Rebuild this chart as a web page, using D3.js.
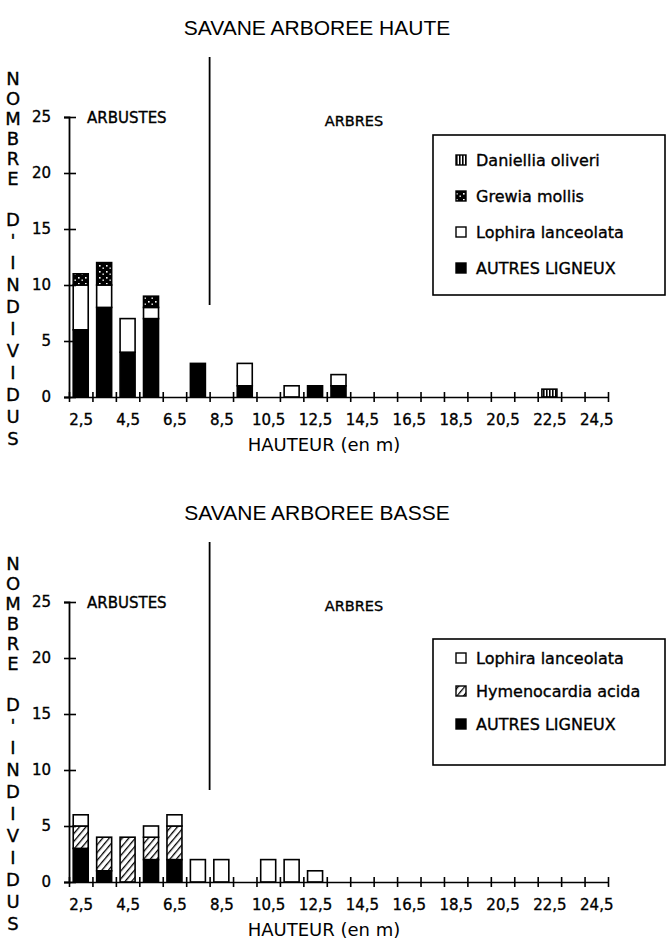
<!DOCTYPE html>
<html>
<head>
<meta charset="utf-8">
<script src="https://cdn.jsdelivr.net/npm/d3@7"></script>
<style>
  html, body { margin: 0; padding: 0; background: #fff; }
  svg { display: block; }
  text { font-family: "DejaVu Sans", sans-serif; fill: #000; }
  .heavy { stroke: #000; stroke-width: 0.35px; }
</style>
</head>
<body>
<svg id="chart" width="667" height="939"></svg>
<script>
// ---------- DATA ----------
const binCenters = [2.5,3.5,4.5,5.5,6.5,7.5,8.5,9.5,10.5,11.5,12.5,13.5,14.5,15.5,16.5,17.5,18.5,19.5,20.5,21.5,22.5,23.5,24.5];
const xTickLabels = ["2,5","4,5","6,5","8,5","10,5","12,5","14,5","16,5","18,5","20,5","22,5","24,5"];
const yTickValues = [0,5,10,15,20,25];

// Savane arborée haute
const hauteAutres    = [6,8,4,7,0,3,0,1,0,0,1,1,0,0,0,0,0,0,0,0,0,0,0];
const hauteLophira   = [4,2,3,1,0,0,0,2,0,1,0,1,0,0,0,0,0,0,0,0,0,0,0];
const hauteGrewia    = [1,2,0,1,0,0,0,0,0,0,0,0,0,0,0,0,0,0,0,0,0,0,0];
const hauteDaniellia = [0,0,0,0,0,0,0,0,0,0,0,0,0,0,0,0,0,0,0,0,0.7,0,0];

// Savane arborée basse
const basseAutres  = [3,1,0,2,2,0,0,0,0,0,0,0,0,0,0,0,0,0,0,0,0,0,0];
const basseHymeno  = [2,3,4,2,3,0,0,0,0,0,0,0,0,0,0,0,0,0,0,0,0,0,0];
const basseLophira = [1,0,0,1,1,2,2,0,2,2,1,0,0,0,0,0,0,0,0,0,0,0,0];

const yLabelWord1 = "NOMBRE";
const yLabelWord2 = "D'";
const yLabelWord3 = "INDIVIDUS";

// ---------- DRAW ----------
const svg = d3.select("#chart");
const defs = svg.append("defs");

const pGrewia = defs.append("pattern").attr("id","pGrewia").attr("patternUnits","userSpaceOnUse")
  .attr("width",7).attr("height",6);
pGrewia.append("rect").attr("width",7).attr("height",6).attr("fill","#000");
pGrewia.append("rect").attr("x",1).attr("y",1).attr("width",1.6).attr("height",1.6).attr("fill","#fff");
pGrewia.append("rect").attr("x",4.5).attr("y",3.5).attr("width",1.4).attr("height",1.4).attr("fill","#fff");

const pDan = defs.append("pattern").attr("id","pDan").attr("patternUnits","userSpaceOnUse")
  .attr("width",3).attr("height",4);
pDan.append("rect").attr("width",3).attr("height",4).attr("fill","#fff");
pDan.append("rect").attr("width",1.6).attr("height",4).attr("fill","#000");

const pHym = defs.append("pattern").attr("id","pHym").attr("patternUnits","userSpaceOnUse")
  .attr("width",5).attr("height",5).attr("patternTransform","rotate(40)");
pHym.append("rect").attr("width",5).attr("height",5).attr("fill","#fff");
pHym.append("rect").attr("width",1.3).attr("height",5).attr("fill","#000");

function drawChart(cfg) {
  const g = svg.append("g").attr("transform", `translate(0,${cfg.dy})`);
  const x = d3.scaleLinear().domain([2,25]).range([69,608]);
  const y = d3.scaleLinear().domain([0,25]).range([397,117]);

  // title
  g.append("text").attr("x",317).attr("y",27).attr("text-anchor","middle")
    .attr("dominant-baseline","central").style("font-size","21px").style("font-family","'Liberation Sans', sans-serif")
    .text(cfg.title);

  // divider arbustes / arbres
  g.append("line").attr("x1",x(8)).attr("x2",x(8)).attr("y1",57).attr("y2",305)
    .attr("stroke","#000").attr("stroke-width",1.8);
  g.append("text").attr("class","heavy").attr("x",87).attr("y",118).attr("dominant-baseline","central")
    .style("font-size","15px").text("ARBUSTES");
  g.append("text").attr("class","heavy").attr("x",354).attr("y",121).attr("text-anchor","middle").attr("dominant-baseline","central")
    .style("font-size","14.5px").text("ARBRES");

  // vertical label
  const vl = g.append("g").attr("class","heavy").style("font-size","18px");
  yLabelWord1.split("").forEach((c,i) => vl.append("text").attr("x",13).attr("y",78 + i*20)
    .attr("text-anchor","middle").attr("dominant-baseline","central").text(c));
  vl.append("text").attr("x",13).attr("y",219).attr("text-anchor","middle").attr("dominant-baseline","central").text(yLabelWord2[0]);
  vl.append("text").attr("x",13).attr("y",240).attr("text-anchor","middle").attr("dominant-baseline","central").text(yLabelWord2[1]);
  yLabelWord3.split("").forEach((c,i) => vl.append("text").attr("x",13).attr("y",262 + i*22)
    .attr("text-anchor","middle").attr("dominant-baseline","central").text(c));

  // stacked bars
  const keys = cfg.series.map(s => s.key);
  const rows = binCenters.map((c,i) => {
    const r = {center:c};
    cfg.series.forEach(s => r[s.key] = s.values[i]);
    return r;
  });
  const stacked = d3.stack().keys(keys)(rows);
  const barW = 15;
  stacked.forEach((layer, li) => {
    const s = cfg.series[li];
    g.append("g").selectAll("rect").data(layer.filter(d => d[1] - d[0] > 0)).join("rect")
      .attr("x", d => x(d.data.center) - barW/2)
      .attr("y", d => y(d[1]))
      .attr("width", barW)
      .attr("height", d => y(d[0]) - y(d[1]))
      .attr("fill", s.fill)
      .attr("stroke","#000").attr("stroke-width",1.6);
  });

  // y axis
  const yAxis = g.append("g").attr("transform","translate(69,0)")
    .call(d3.axisLeft(y).tickValues(yTickValues).tickFormat(d3.format("d")).tickSize(5).tickPadding(13));
  yAxis.select(".domain").attr("stroke-width",1.8);
  yAxis.selectAll(".tick line").attr("x1",-5).attr("x2",7).attr("stroke-width",1.6);
  yAxis.selectAll(".tick text").attr("class","heavy").style("font-size","15px").style("font-family","'DejaVu Sans', sans-serif");

  // x axis (bin edges)
  const xAxis = g.append("g").attr("transform","translate(0,397)")
    .call(d3.axisBottom(x).tickValues(d3.range(2,26)).tickFormat("").tickSize(5).tickSizeOuter(0));
  xAxis.select(".domain").attr("stroke-width",1.6);
  xAxis.selectAll(".tick line").attr("y1",-5).attr("y2",5).attr("stroke-width",1.6);

  // x labels at bin centers
  const xLab = g.append("g").attr("transform","translate(0,397)")
    .call(d3.axisBottom(x).tickValues(binCenters.filter((d,i) => i % 2 === 0))
      .tickFormat((d,i) => xTickLabels[i]).tickSize(0).tickPadding(17));
  xLab.select(".domain").remove();
  xLab.selectAll(".tick text").attr("class","heavy").style("font-size","15px").style("font-family","'DejaVu Sans', sans-serif");

  g.append("text").attr("x",324).attr("y",444).attr("text-anchor","middle").attr("dominant-baseline","central")
    .style("font-size","18px").text("HAUTEUR (en m)");

  // legend
  const L = cfg.legend;
  g.append("rect").attr("x",L.x).attr("y",L.y).attr("width",L.w).attr("height",L.h)
    .attr("fill","none").attr("stroke","#000").attr("stroke-width",1.6);
  L.items.forEach((it,i) => {
    const yy = L.firstRow + i*L.step;
    g.append("rect").attr("x",L.x+23).attr("y",yy-5).attr("width",10).attr("height",10)
      .attr("fill",it.fill).attr("stroke","#000").attr("stroke-width",1.4);
    g.append("text").attr("class","heavy").attr("x",L.x+43).attr("y",yy).attr("dominant-baseline","central")
      .style("font-size","16px").text(it.label);
  });
}

drawChart({
  dy: 0,
  title: "SAVANE ARBOREE HAUTE",
  series: [
    {key:"autres", values:hauteAutres, fill:"#000"},
    {key:"lophira", values:hauteLophira, fill:"#fff"},
    {key:"grewia", values:hauteGrewia, fill:"url(#pGrewia)"},
    {key:"daniellia", values:hauteDaniellia, fill:"url(#pDan)"}
  ],
  legend: {x:433, y:135, w:232, h:160, firstRow:160, step:36,
    items:[
      {label:"Daniellia oliveri", fill:"url(#pDan)"},
      {label:"Grewia mollis", fill:"url(#pGrewia)"},
      {label:"Lophira lanceolata", fill:"#fff"},
      {label:"AUTRES LIGNEUX", fill:"#000"}
    ]}
});

drawChart({
  dy: 485,
  title: "SAVANE ARBOREE BASSE",
  series: [
    {key:"autres", values:basseAutres, fill:"#000"},
    {key:"hymeno", values:basseHymeno, fill:"url(#pHym)"},
    {key:"lophira", values:basseLophira, fill:"#fff"}
  ],
  legend: {x:433, y:154, w:232, h:126, firstRow:173, step:33,
    items:[
      {label:"Lophira lanceolata", fill:"#fff"},
      {label:"Hymenocardia acida", fill:"url(#pHym)"},
      {label:"AUTRES LIGNEUX", fill:"#000"}
    ]}
});
</script>
</body>
</html>
